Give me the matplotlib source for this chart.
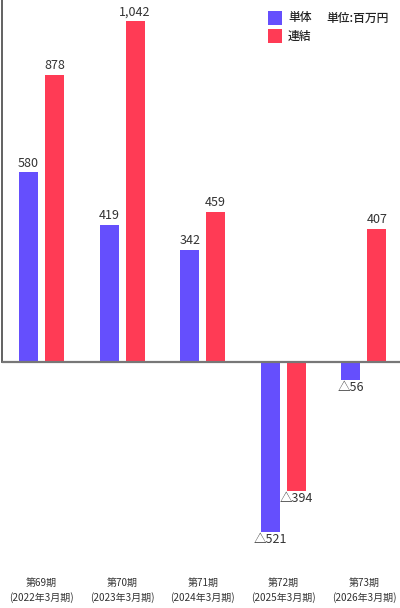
import matplotlib
matplotlib.use("Agg")
import matplotlib.pyplot as plt
from matplotlib.patches import Rectangle
import numpy as np

plt.rcParams['font.family'] = ['Noto Sans CJK JP', 'DejaVu Sans']

periods = ["第69期", "第70期", "第71期", "第72期", "第73期"]
years = ["(2022年3月期)", "(2023年3月期)", "(2024年3月期)", "(2025年3月期)", "(2026年3月期)"]
tanntai = [580, 419, 342, -521, -56]
renketsu = [878, 1042, 459, -394, 407]
series_names = ["単体", "連結"]
unit_label = "単位:百万円"

c_blue = "#654ffd"
c_red = "#ff3b55"
colors = [c_blue, c_red]

W, H = 400, 608
fig = plt.figure(figsize=(W / 100, H / 100), dpi=100)
ax_bottom_px = 570
ax = fig.add_axes([2 / W, 1 - ax_bottom_px / H, 398 / W, ax_bottom_px / H])

x = np.arange(len(periods))
bw = 0.236
off = 0.161
ax.bar(x - off, tanntai, bw, color=c_blue, zorder=2)
ax.bar(x + off, renketsu, bw, color=c_red, zorder=2)

ax.set_ylim(-636, 1107)
ax.set_xlim(-0.49, 4.448)

def fmt(v):
    return f"{v:,}" if v >= 0 else f"△{abs(v):,}"

for xs, vals in ((x - off, tanntai), (x + off, renketsu)):
    for xi, v in zip(xs, vals):
        if v >= 0:
            ax.annotate(fmt(v), (xi, v), xytext=(0, 2), textcoords="offset points",
                        ha="center", va="bottom", fontsize=9, color="#333333")
        else:
            ax.annotate(fmt(v), (xi, v), xytext=(0, -0.5), textcoords="offset points",
                        ha="center", va="top", fontsize=9, color="#333333")

ax.axhline(0, color="#777777", lw=1.6, zorder=3)
for s in ("top", "right", "bottom"):
    ax.spines[s].set_visible(False)
ax.spines["left"].set_color("#555555")
ax.spines["left"].set_linewidth(1.3)
ax.spines["left"].set_bounds(0, 1107)
ax.set_yticks([])
ax.set_xticks(x)
ax.set_xticklabels([f"{p}\n{y}" for p, y in zip(periods, years)], fontsize=7.2,
                   color="#333333", linespacing=1.4)
ax.tick_params(axis="x", length=0, pad=6)

# legend (drawn in figure pixel space, y measured from the top)
def px(xp, yp):
    return xp / W, 1 - yp / H

for i, (name, col) in enumerate(zip(series_names, colors)):
    top = 11 + 18 * i
    x0, y0 = px(268, top + 14)
    fig.add_artist(Rectangle((x0, y0), 14 / W, 14 / H, transform=fig.transFigure,
                             facecolor=col, edgecolor="none"))
    tx, ty = px(288, top + 7)
    fig.text(tx, ty, name, ha="left", va="center", fontsize=8.5, color="#222222",
             fontweight="medium")
ux, uy = px(326, 18)
fig.text(ux, uy, unit_label, ha="left", va="center", fontsize=8.5, color="#222222",
         fontweight="medium")

fig.savefig("out.png", dpi=100)
